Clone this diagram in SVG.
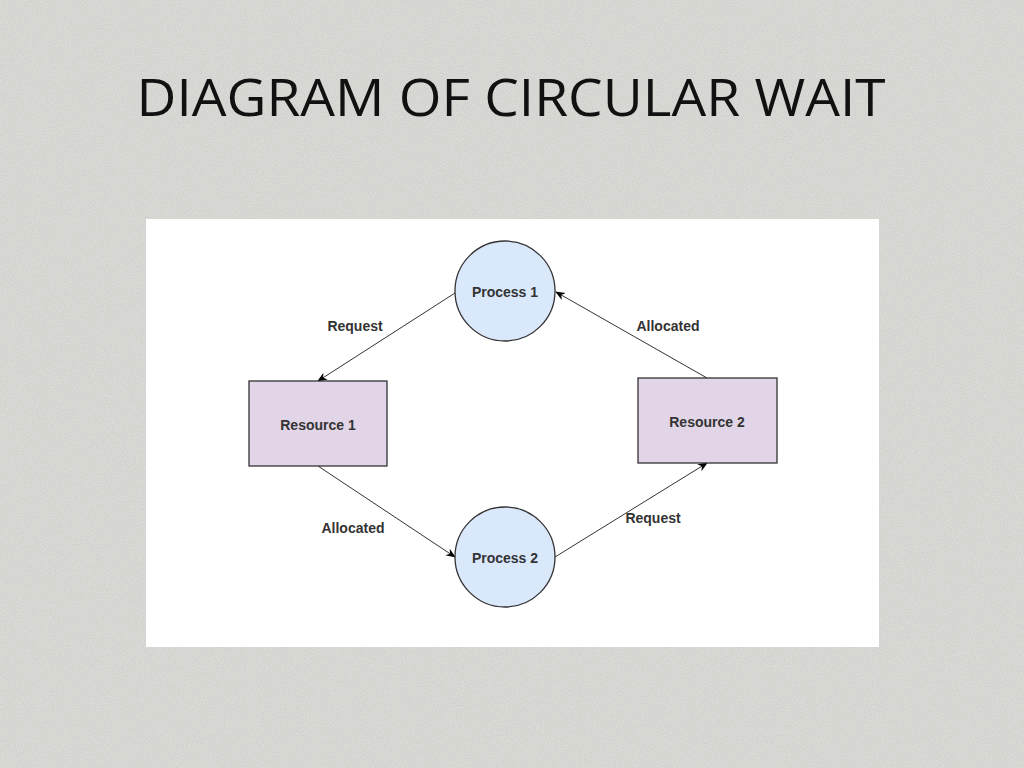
<svg xmlns="http://www.w3.org/2000/svg" width="1024" height="768" viewBox="0 0 1024 768">
<defs>
<filter id="tex"><feTurbulence type="fractalNoise" baseFrequency="0.9" numOctaves="2" seed="3"/><feColorMatrix type="matrix" values="0 0 0 0 0.5  0 0 0 0 0.5  0 0 0 0 0.48  0 0 0 -1.2 0.9"/></filter>
<marker id="ah" markerWidth="10" markerHeight="10" refX="9" refY="5" orient="auto" markerUnits="userSpaceOnUse"><path d="M0,1 L10,5 L0,9 L3,5 Z" fill="#000"/></marker>
<style>
.p{fill:#dae8fc;stroke:#333;stroke-width:1.3}
.r{fill:#e1d5e7;stroke:#333;stroke-width:1.3}
.t{font-family:"Liberation Sans",Arial,sans-serif;font-size:14px;font-weight:bold;fill:#333;text-anchor:middle}
.c{stroke:#333;stroke-width:1;fill:none;marker-end:url(#ah)}
</style>
</defs>
<rect width="1024" height="768" fill="#dcdcd8"/>
<rect width="1024" height="768" filter="url(#tex)" opacity="0.6"/>
<text x="511" y="116" text-anchor="middle" font-family="Open Sans,sans-serif" font-size="52" fill="#111" textLength="749" lengthAdjust="spacingAndGlyphs">DIAGRAM OF CIRCULAR WAIT</text>
<rect x="146" y="219" width="733" height="428" fill="#fff"/>
<g id="connectors">
<line class="c" x1="455" y1="293" x2="318" y2="381"/>
<line class="c" x1="318" y1="466" x2="455" y2="557"/>
<line class="c" x1="555" y1="557" x2="707" y2="463"/>
<line class="c" x1="707" y1="378" x2="556" y2="292"/>
<text class="t" x="355" y="331">Request</text>
<text class="t" x="668" y="331">Allocated</text>
<text class="t" x="353" y="533">Allocated</text>
<text class="t" x="653" y="523">Request</text>
</g>
<g id="process1"><circle class="p" cx="505" cy="291" r="50"/><text class="t" x="505" y="297">Process 1</text></g>
<g id="process2"><circle class="p" cx="505" cy="557" r="50"/><text class="t" x="505" y="563">Process 2</text></g>
<g id="resource1"><rect class="r" x="249" y="381" width="138" height="85"/><text class="t" x="318" y="430">Resource 1</text></g>
<g id="resource2"><rect class="r" x="638" y="378" width="139" height="85"/><text class="t" x="707" y="427">Resource 2</text></g>
</svg>
